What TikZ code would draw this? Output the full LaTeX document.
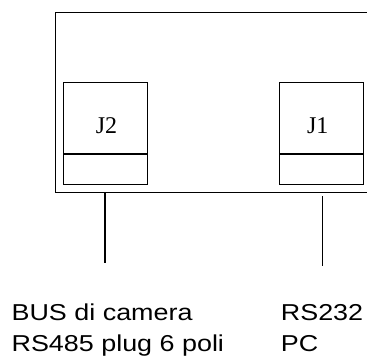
\documentclass[tikz,border=0pt]{standalone}
\usepackage{fontspec}
\newfontfamily\capfont[FakeStretch=1.17]{Liberation Sans}
\newfontfamily\jfont{Liberation Serif}

\begin{document}
\begin{tikzpicture}[x=1pt,y=-1pt,
    board/.style={draw,line width=1.1pt,anchor=north west,
      minimum width=340pt, minimum height=180.5pt},
    jack/.style={draw,line width=1.4pt,anchor=north west,inner sep=0pt,
      minimum width=83.5pt, minimum height=102.3pt},
    jname/.style={anchor=base,font=\jfont\fontsize{24}{28}\selectfont},
    cable/.style={line width=1.2pt},
    caption/.style={anchor=base west,inner sep=0pt,
      font=\capfont\fontsize{23}{27}\selectfont},]
  \clip (0,0) rectangle (367,358);
  \useasboundingbox (0,0) rectangle (367,358);
  \node[board] (board) at (55,11.8) {};
  % connectors
  \node[jack] (J2) at (63,81.7) {};
  \draw[line width=1.4pt] ([yshift=31.3pt]J2.south west) -- ([yshift=31.3pt]J2.south east);
  \node[jack, minimum width=84pt] (J1) at (279,81.7) {};
  \draw[line width=1.4pt] ([yshift=31.3pt]J1.south west) -- ([yshift=31.3pt]J1.south east);
  \node[jname] at ([xshift=1pt,yshift=51.7pt]J2.south) {J2};
  \node[jname] at ([xshift=-4pt,yshift=51.7pt]J1.south) {J1};
  % cables
  \coordinate (end2) at (105,263);
  \coordinate (end1) at (322.5,266);
  \draw[cable] (board.south -| end2) -- (end2);
  \draw[cable] ([yshift=-3pt]board.south -| end1) -- (end1);
  % captions
  \node[caption] (bus) at (11.4,320.5) {BUS di camera};
  \node[caption] (rs485) at ([yshift=-31pt]bus.base west) {RS485 plug 6 poli};
  \node[caption] (rs232) at (280.7,320.5) {RS232};
  \node[caption] (pc) at ([yshift=-31pt]rs232.base west) {PC};
\end{tikzpicture}
\end{document}
